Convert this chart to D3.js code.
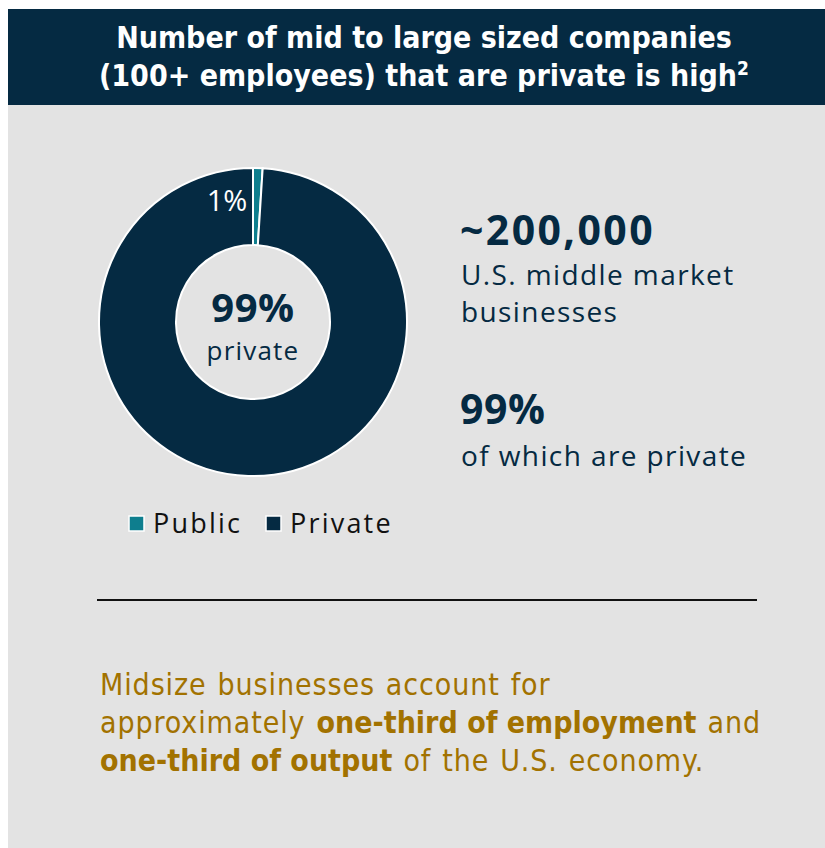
<!DOCTYPE html>
<html><head><meta charset="utf-8">
<script src="https://cdn.jsdelivr.net/npm/d3@7"></script>
<style>
html,body{margin:0;padding:0;background:#fff;}
svg{display:block;}
</style></head>
<body>
<svg id="c" width="825" height="848"></svg>
<script>
const categories = ["Public", "Private"];
const shares = [1, 99];
const sliceLabels = ["1%", ""];
const titleLines = ["Number of mid to large sized companies", "(100+ employees) that are private is high"];
const centerBig = "99%";
const centerSmall = "private";
const stat1Value = "~200,000";
const stat1Lines = ["U.S. middle market", "businesses"];
const stat2Value = "99%";
const stat2Lines = ["of which are private"];
const footerLines = [
  [["Midsize businesses account for", false]],
  [["approximately ", false], ["one-third of employment", true], [" and", false]],
  [["one-third of output", true], [" of the U.S. economy.", false]]
];

const navy = "#052a42", teal = "#0e7e8e", gold = "#a27200", gray = "#e3e3e3";
const svg = d3.select("#c");

svg.append("rect").attr("x", 8).attr("y", 104).attr("width", 817).attr("height", 744).attr("fill", gray);
svg.append("rect").attr("x", 8).attr("y", 9).attr("width", 817).attr("height", 96).attr("fill", navy);

const titleFont = "'Liberation Sans Narrow','DejaVu Sans Condensed',Roboto,sans-serif";
const t = svg.append("text").attr("fill", "#fff").attr("font-family", titleFont)
  .attr("font-size", 30).attr("font-weight", 700).attr("text-anchor", "middle");
t.append("tspan").attr("x", 424).attr("y", 48).text(titleLines[0]);
const t2 = t.append("tspan").attr("x", 424).attr("y", 86).text(titleLines[1]);
t2.append("tspan").attr("font-size", 19).attr("dy", -11).text("2");

// donut
const cx = 253, cy = 322;
const color = d3.scaleOrdinal().domain(categories).range([teal, navy]);
const pie = d3.pie().sort(null).value(d => d.v);
const data = categories.map((c, i) => ({c, v: shares[i], l: sliceLabels[i]}));
const arcs = pie(data);
const arc = d3.arc().innerRadius(77).outerRadius(154);
const g = svg.append("g").attr("transform", `translate(${cx},${cy})`);
g.selectAll("path").data(arcs).join("path").attr("d", arc)
  .attr("fill", d => color(d.data.c)).attr("stroke", "#fff").attr("stroke-width", 2);
g.append("text").attr("x", -26).attr("y", -111).attr("text-anchor", "middle")
  .attr("fill", "#fff").attr("font-family", "'Open Sans',sans-serif").attr("font-weight", 400)
  .attr("font-size", 29).text(arcs[0].data.l);
const bodyFont = "'Open Sans',Lato,sans-serif";
g.append("text").attr("x", 0).attr("y", 0).attr("text-anchor", "middle").attr("fill", navy)
  .attr("font-family", bodyFont).attr("font-weight", 700).attr("font-size", 40)
  .attr("letter-spacing", 0.5).text(centerBig);
g.append("text").attr("x", 0).attr("y", 38).attr("text-anchor", "middle").attr("fill", navy)
  .attr("font-family", bodyFont).attr("font-size", 26).attr("letter-spacing", 1.2).text(centerSmall);

// legend
const legX = [129, 266];
const lg = svg.append("g").selectAll("g").data(categories).join("g")
  .attr("transform", (d, i) => `translate(${legX[i]},516)`);
lg.append("rect").attr("width", 15).attr("height", 15).attr("fill", d => color(d))
  .attr("stroke", "#fff").attr("stroke-width", 1.5);
lg.append("text").attr("x", 24).attr("y", 17).attr("fill", "#111").attr("font-family", bodyFont)
  .attr("font-size", 27).attr("letter-spacing", 2.2).text(d => d);

// stats
const statFont = "'Open Sans',Lato,sans-serif";
svg.append("text").attr("x", 460).attr("y", 245).attr("fill", navy).attr("font-family", statFont)
  .attr("font-weight", 700).attr("font-size", 41).attr("letter-spacing", 2.4).text(stat1Value);
stat1Lines.forEach((s, i) => svg.append("text").attr("x", 461).attr("y", 285 + i * 37).attr("fill", navy)
  .attr("font-family", statFont).attr("font-size", 28).attr("letter-spacing", 1.4).text(s));
svg.append("text").attr("x", 460).attr("y", 424).attr("fill", navy).attr("font-family", statFont)
  .attr("font-weight", 700).attr("font-size", 41).attr("letter-spacing", 0.5).text(stat2Value);
stat2Lines.forEach((s, i) => svg.append("text").attr("x", 461).attr("y", 466 + i * 37).attr("fill", navy)
  .attr("font-family", statFont).attr("font-size", 28).attr("letter-spacing", 1.4).text(s));

// divider
svg.append("line").attr("x1", 97).attr("x2", 757).attr("y1", 600).attr("y2", 600)
  .attr("stroke", "#111").attr("stroke-width", 2);

// footer
const footFont = "'Liberation Sans Narrow','DejaVu Sans Condensed',Roboto,sans-serif";
footerLines.forEach((line, i) => {
  const tx = svg.append("text").attr("x", 100).attr("y", 695 + i * 38).attr("fill", gold)
    .attr("font-family", footFont).attr("font-size", 30);
  line.forEach(([s, b]) => tx.append("tspan").attr("font-weight", b ? 700 : 400)
    .attr("letter-spacing", b ? 0 : 0.9).attr("word-spacing", b ? 0 : 1.5).text(s));
});
</script>
</body></html>
